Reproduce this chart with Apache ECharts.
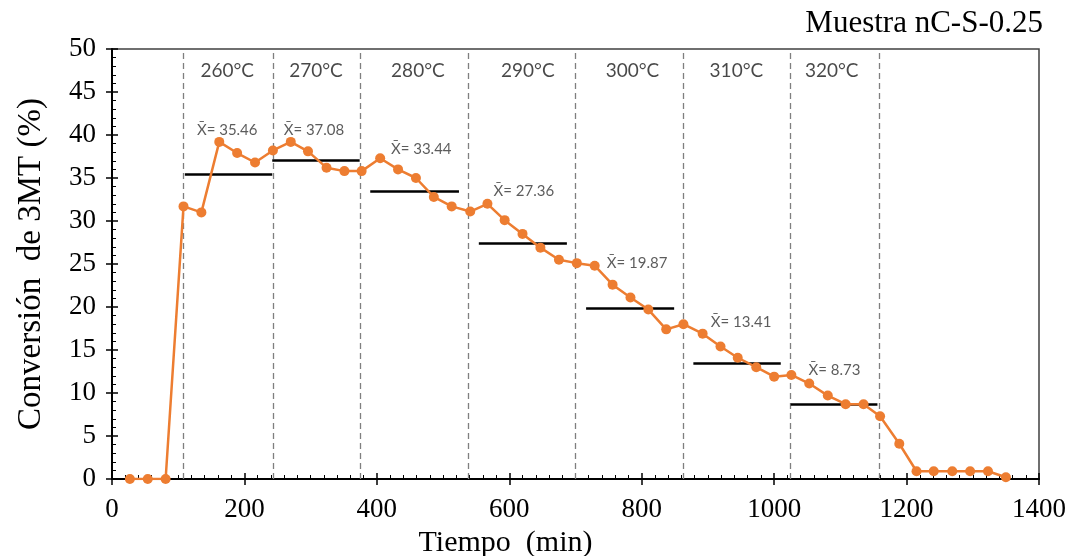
<!DOCTYPE html>
<html>
<head>
<meta charset="utf-8">
<script src="https://cdn.jsdelivr.net/npm/echarts@6/dist/echarts.min.js"></script>
<style>html,body{margin:0;padding:0;background:#fff;}#c{width:1070px;height:556px;}</style>
</head>
<body>
<div id="c"></div>
<script>
// ---- data ----
const time = [27,54,81,108,135,162,189,216,243,270,296,324,351,377,405,432,459,486,513,541,567,593,620,647,675,702,729,756,783,810,837,863,892,919,945,973,1000,1026,1053,1081,1108,1135,1160,1189,1215,1241,1269,1296,1323,1350];
const conversion = [0,0,0,31.7,31.0,39.2,37.9,36.8,38.2,39.2,38.1,36.2,35.8,35.8,37.3,36.0,35.0,32.8,31.7,31.1,32.0,30.1,28.5,26.9,25.5,25.1,24.8,22.6,21.1,19.7,17.4,18.0,16.9,15.4,14.1,13.0,11.9,12.1,11.1,9.7,8.7,8.7,7.3,4.1,0.9,0.9,0.9,0.9,0.9,0.2];
const boundaries = [108,243,375,538,700,863,1025,1158];
const temperatures = ['260°C','270°C','280°C','290°C','300°C','310°C','320°C'];
const tempLabelX = [174,308,462,628,786,943,1087];
const tempLabelY = 47.5;
const means = [35.46,37.08,33.44,27.36,19.87,13.41,8.73];
const meanStart = [110,242,390,554,716,878,1025];
const meanEnd = [242,374,524,687,849,1010,1156];
const meanLabelX = [174,305,467,622,793,950,1091];
const meanLabelY = [40.6,40.6,38.4,33.5,25.1,18.2,12.7];
const xTicks = {min:0,max:1400,interval:200};
const yTicks = {min:0,max:50,interval:5};

const chart = echarts.init(document.getElementById('c'), null, {renderer:'canvas'});
const serif = 'Liberation Serif';
const sans = 'Lato';
const gridBox = {left:112,right:31,top:49,bottom:77,containLabel:false,outerBoundsMode:'none'};

const option = {
  animation:false,
  backgroundColor:'#fff',
  title:{text:'Muestra nC-S-0.25',right:27,top:8,padding:0,
    textStyle:{fontFamily:serif,fontSize:31,fontWeight:'normal',color:'#000'}},
  grid:[
    Object.assign({show:true,borderColor:'#404040',borderWidth:1.5,backgroundColor:'transparent'},gridBox),
    Object.assign({show:false},gridBox)
  ],
  xAxis:[
    {type:'value',gridIndex:0,min:xTicks.min,max:xTicks.max,interval:xTicks.interval,
     name:'Tiempo  (min)',nameLocation:'middle',nameGap:44,
     nameTextStyle:{fontFamily:serif,fontSize:30,color:'#000',padding:[0,140,0,0]},
     axisLine:{show:true,onZero:false,lineStyle:{color:'#000',width:2}},
     axisTick:{show:true,inside:true,length:6,lineStyle:{color:'#000',width:1.5}},
     minorTick:{show:true,splitNumber:10,length:4,lineStyle:{color:'#000',width:1}},
     axisLabel:{fontFamily:serif,fontSize:27,color:'#000',margin:17,formatter:v=>String(v)},
     splitLine:{show:false}},
    {type:'value',gridIndex:1,min:xTicks.min,max:xTicks.max,interval:xTicks.interval,
     axisLine:{show:false},axisTick:{show:true,inside:false,length:6,lineStyle:{color:'#000',width:1.5}},
     axisLabel:{show:false},splitLine:{show:false}}
  ],
  yAxis:[
    {type:'value',gridIndex:0,min:yTicks.min,max:yTicks.max,interval:yTicks.interval,
     name:'Conversión  de 3MT (%)',nameLocation:'middle',nameGap:64,
     nameTextStyle:{fontFamily:serif,fontSize:33,color:'#000'},
     axisLine:{show:true,onZero:false,lineStyle:{color:'#000',width:2}},
     axisTick:{show:true,inside:true,length:6,lineStyle:{color:'#000',width:1.5}},
     minorTick:{show:true,splitNumber:5,length:4,lineStyle:{color:'#000',width:1}},
     axisLabel:{fontFamily:serif,fontSize:27,color:'#000',margin:16,formatter:v=>String(v)},
     splitLine:{show:false}},
    {type:'value',gridIndex:1,min:yTicks.min,max:yTicks.max,interval:yTicks.interval,
     axisLine:{show:false},axisTick:{show:true,inside:false,length:6,lineStyle:{color:'#000',width:1.5}},
     axisLabel:{show:false},splitLine:{show:false}}
  ],
  series:[
    {type:'line',name:'bounds',xAxisIndex:0,yAxisIndex:0,data:[],silent:true,z:1,
     markLine:{silent:true,symbol:['none','none'],label:{show:false},
       lineStyle:{color:'#7f7f7f',type:[6,4],width:1.3},
       data:boundaries.map(v=>({xAxis:v}))}},
    {type:'line',name:'means',xAxisIndex:0,yAxisIndex:0,data:[],silent:true,z:2,
     markLine:{silent:true,symbol:['none','none'],label:{show:false},
       lineStyle:{color:'#000',type:'solid',width:2.5},
       data:means.map((m,i)=>[{coord:[meanStart[i],m]},{coord:[meanEnd[i],m]}])}},
    {type:'line',name:'Conversión',xAxisIndex:0,yAxisIndex:0,z:5,
     data:time.map((t,i)=>[t,conversion[i]]),
     symbol:'circle',symbolSize:10,showSymbol:true,
     itemStyle:{color:'#ED7D31'},lineStyle:{color:'#ED7D31',width:2.5}},
    {type:'scatter',name:'temps',xAxisIndex:0,yAxisIndex:0,symbolSize:0,silent:true,z:6,
     data:tempLabelX.map(x=>[x,tempLabelY]),
     label:{show:true,position:'inside',formatter:p=>temperatures[p.dataIndex],
       fontFamily:sans,fontSize:19,color:'#1a1a1a'}},
    {type:'scatter',name:'meanLabels',xAxisIndex:0,yAxisIndex:0,symbolSize:0,silent:true,z:6,
     data:meanLabelX.map((x,i)=>[x,meanLabelY[i]]),
     label:{show:true,position:'inside',formatter:p=>'X\u0304= '+means[p.dataIndex].toFixed(2),
       fontFamily:sans,fontSize:15,color:'#333'}}
  ]
};
chart.setOption(option);
</script>
</body>
</html>
